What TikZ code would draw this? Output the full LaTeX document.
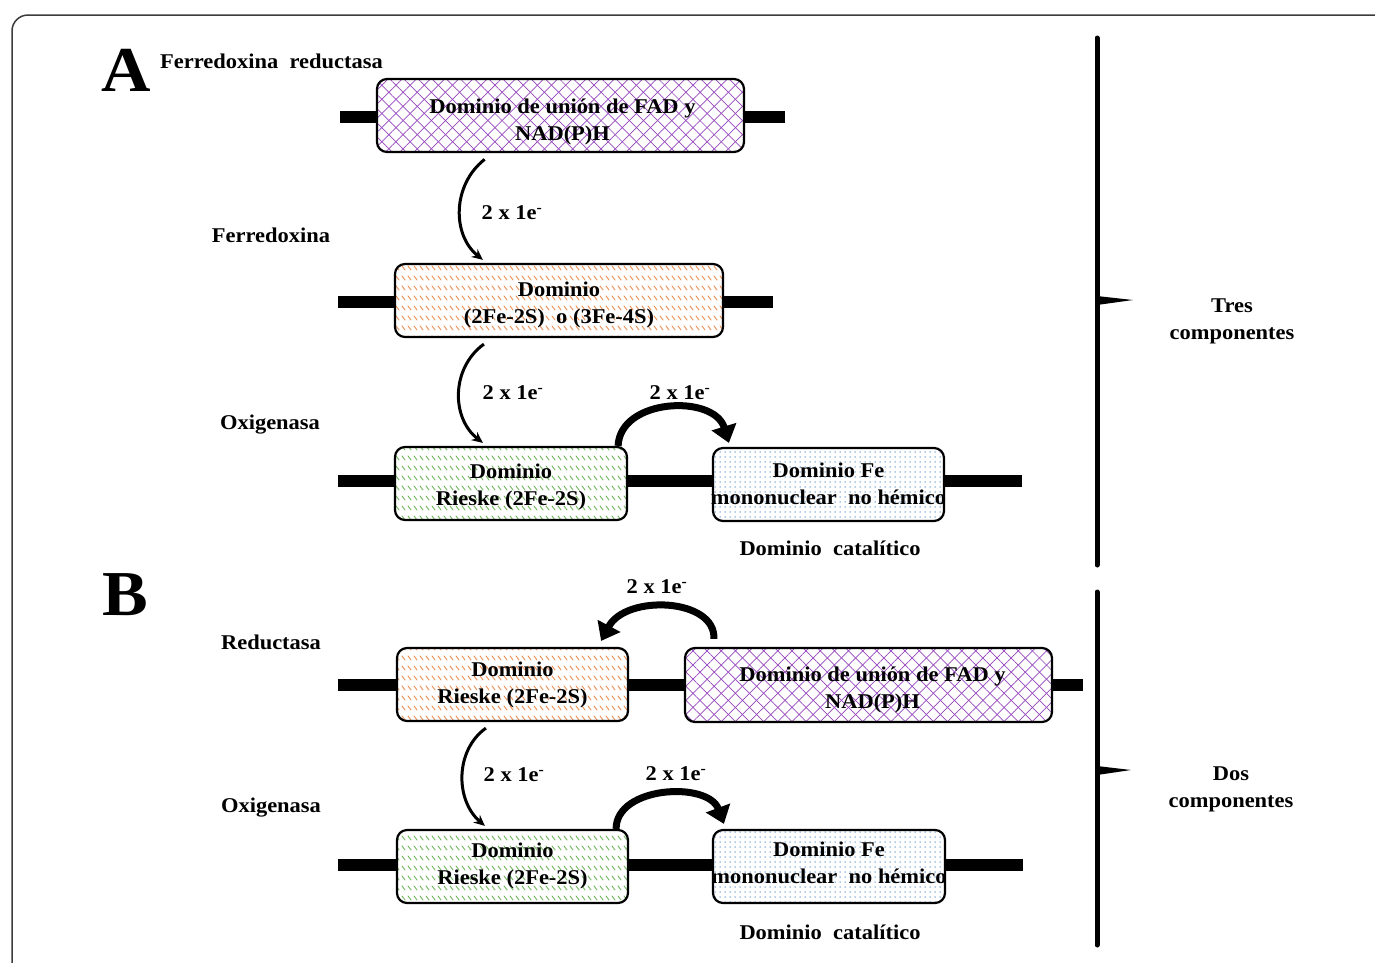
\documentclass[tikz,border=0pt]{standalone}
\usepackage{fontspec}
\setmainfont[FakeStretch=1.07]{Liberation Serif}
\usetikzlibrary{patterns,patterns.meta,arrows.meta,calc}
\pgfdeclarepatternformonly{slashrows}{\pgfqpoint{-1pt}{-1pt}}{\pgfqpoint{8pt}{11pt}}{\pgfqpoint{6pt}{10pt}}{%
  \pgfsetlinewidth{0.9pt}\pgfsetroundcap
  \pgfpathmoveto{\pgfqpoint{0pt}{6pt}}\pgfpathlineto{\pgfqpoint{3pt}{2pt}}\pgfusepath{stroke}}
\definecolor{fadpurple}{RGB}{150,70,190}
\definecolor{fsorange}{RGB}{235,140,80}
\definecolor{rgreen}{RGB}{110,180,90}
\definecolor{fblue}{RGB}{100,150,210}
\definecolor{framegray}{RGB}{60,60,60}
\newcommand\diagfont{\bfseries\fontsize{21}{27}\selectfont}
\newcommand\bigletfont{\bfseries\fontsize{64}{64}\selectfont}
\tikzset{
  dom/.style={draw, line width=2.2pt, rounded corners=10pt, inner sep=0pt},
  fad/.style={dom, preaction={fill=white},
    preaction={pattern={Lines[angle=45,distance=10pt,line width=0.7pt]}, pattern color=fadpurple},
    pattern={Lines[angle=-45,distance=10pt,line width=0.7pt]}, pattern color=fadpurple},
  fes/.style={dom, preaction={fill=white}, pattern=slashrows, pattern color=fsorange},
  rie/.style={dom, preaction={fill=white}, pattern=slashrows, pattern color=rgreen},
  fedom/.style={dom, preaction={fill=white}, pattern={Dots[distance=5pt,radius=0.75pt]}, pattern color=fblue},
  lbl/.style={font=\diagfont, align=center, inner sep=0pt},
  biglet/.style={font=\bigletfont, inner sep=0pt},
  thinarr/.style={line width=3pt, -{Stealth[length=11pt,width=10pt]}},
  archarr/.style={line width=7pt, -{Triangle[length=17pt,width=25pt]}},
  bar/.style={line width=12pt},
  brk/.style={line width=5pt, line cap=round},
}
\begin{document}
\begin{tikzpicture}[x=1pt,y=-1pt]
\useasboundingbox (0,0) rectangle (1375,962);
\fill[white] (0,0) rectangle (1375,962);
% frame
\draw[framegray, line width=1.5pt, rounded corners=16pt] (12,975) -- (12,15) -- (1390,15);

% ---------- A ----------
\node[biglet] (letA) at (126,70) {A};
\node[lbl, anchor=west] (ferred) at (160,61) {Ferredoxina\ \ reductasa};

\coordinate (b1l) at (340,117); \coordinate (b1r) at (785,117);
\draw[bar] (b1l) -- (b1r);
\node[fad, minimum width=367pt, minimum height=73pt] (box1) at (560.5,115.5) {};
\node[lbl] (t1) at ($(box1.center)+(2,6)$) {Dominio de unión de FAD y\\NAD(P)H};

\node[lbl] (lfd) at (271,235) {Ferredoxina};
\coordinate (b2l) at (338,302); \coordinate (b2r) at (773,302);
\draw[bar] (b2l) -- (b2r);
\node[fes, minimum width=328pt, minimum height=73pt] (box2) at (559,300.5) {};
\node[lbl] (t2) at ($(box2.center)+(0,4)$) {Dominio\\(2Fe-2S)\ \ o (3Fe-4S)};

\node[lbl] (lox1) at (270,425) {Oxigenasa};
\coordinate (b3l) at (338,481); \coordinate (b3r) at (1022,481);
\draw[bar] (b3l) -- (b3r);
\node[rie, minimum width=232pt, minimum height=73pt] (box3) at (511,483.5) {};
\node[lbl] (t3) at ($(box3.center)+(0,3)$) {Dominio\\Rieske (2Fe-2S)};
\node[fedom, minimum width=231pt, minimum height=73pt] (box4) at (828.5,484.5) {};
\node[lbl] (t4) at ($(box4.center)+(0,-1)$) {Dominio Fe\\mononuclear\ \ no hémico};
\node[lbl] (cat1) at (830,548) {Dominio\ \ catalítico};

\draw[thinarr] ($(box1.south west)+(108,7)$) .. controls (452,185) and (452,235) .. ($(box2.north west)+(89,-3)$);
\node[lbl] (e1) at (512,213) {2 x 1e\textsuperscript{-}};
\draw[thinarr] ($(box2.south west)+(90,6)$) .. controls (451,368) and (451,418) .. ($(box3.north west)+(89,-3)$);
\node[lbl] (e2) at (513,393) {2 x 1e\textsuperscript{-}};
\draw[archarr] ($(box3.north east)+(-10,0)$) .. controls (620,398) and (714,394) .. ($(box4.north west)+(17,-4)$);
\node[lbl] (e3) at (680,393) {2 x 1e\textsuperscript{-}};

\coordinate (brA1) at (1097,38); \coordinate (brA2) at (1097,565);
\draw[brk] (brA1) -- (brA2);
\fill (1097,296) -- (1133,300) -- (1097,305) -- cycle;
\node[lbl] (tres) at (1232,321) {Tres\\componentes};

% ---------- B ----------
\node[biglet] (letB) at (125,595) {B};
\node[lbl] (lred) at (271,642) {Reductasa};
\coordinate (b4l) at (338,685); \coordinate (b4r) at (1083,685);
\draw[bar] (b4l) -- (b4r);
\node[fes, minimum width=231pt, minimum height=73pt] (box5) at (512.5,684.5) {};
\node[lbl] (t5) at ($(box5.center)+(0,0)$) {Dominio\\Rieske (2Fe-2S)};
\node[fad, minimum width=367pt, minimum height=74pt] (box6) at (868.5,685) {};
\node[lbl] (t6) at ($(box6.center)+(4,5)$) {Dominio de unión de FAD y\\NAD(P)H};
\draw[archarr] ($(box6.north west)+(30,-8)$) .. controls (716,598) and (626,594) .. ($(box5.north east)+(-28,-6)$);
\node[lbl] (e4) at (657,587) {2 x 1e\textsuperscript{-}};

\node[lbl] (lox2) at (271,808) {Oxigenasa};
\coordinate (b5l) at (338,865); \coordinate (b5r) at (1023,865);
\draw[bar] (b5l) -- (b5r);
\node[rie, minimum width=231pt, minimum height=73pt] (box7) at (512.5,866.5) {};
\node[lbl] (t7) at ($(box7.center)+(0,-1)$) {Dominio\\Rieske (2Fe-2S)};
\node[fedom, minimum width=232pt, minimum height=73pt] (box8) at (829,866.5) {};
\node[lbl] (t8) at ($(box8.center)+(0,-4)$) {Dominio Fe\\mononuclear\ \ no hémico};
\node[lbl] (cat2) at (830,932) {Dominio\ \ catalítico};

\draw[thinarr] ($(box5.south west)+(90,6)$) .. controls (455,750) and (455,800) .. ($(box7.north west)+(89,-3)$);
\node[lbl] (e5) at (514,775) {2 x 1e\textsuperscript{-}};
\draw[archarr] ($(box7.north east)+(-13,0)$) .. controls (616,786) and (708,781) .. ($(box8.north west)+(12,-5)$);
\node[lbl] (e6) at (676,774) {2 x 1e\textsuperscript{-}};

\coordinate (brB1) at (1097,592); \coordinate (brB2) at (1097,945);
\draw[brk] (brB1) -- (brB2);
\fill (1097,766) -- (1131,770) -- (1097,775) -- cycle;
\node[lbl] (dos) at (1231,789) {Dos\\componentes};
\end{tikzpicture}
\end{document}
